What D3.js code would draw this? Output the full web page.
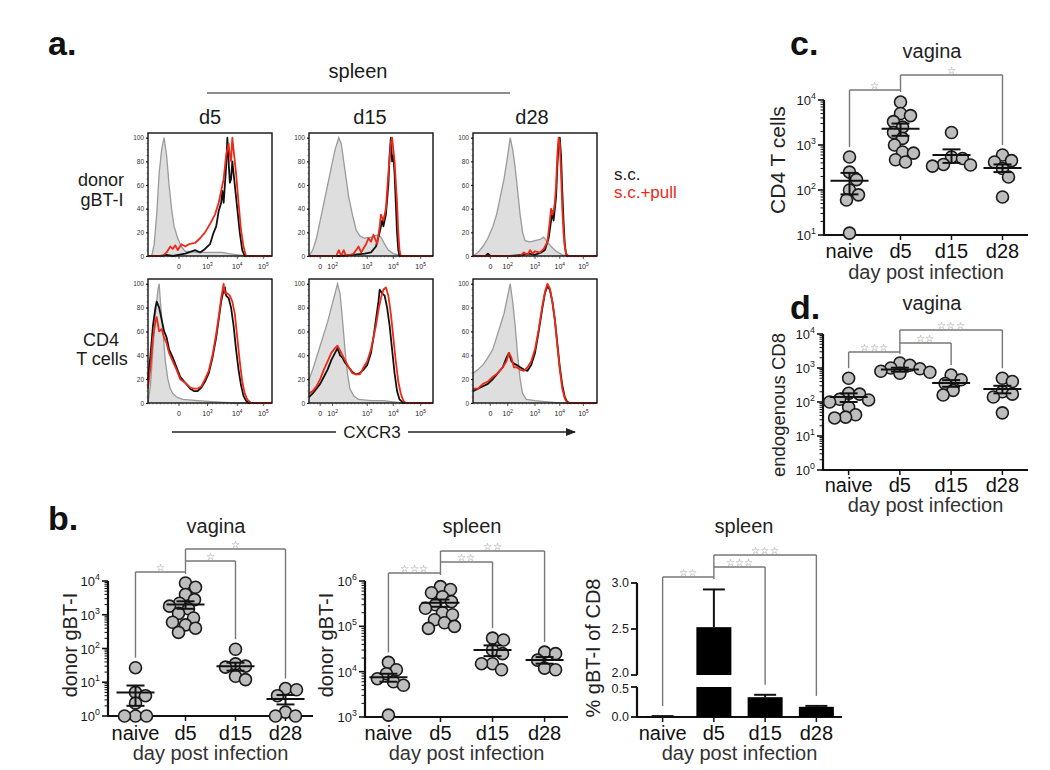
<!DOCTYPE html>
<html><head><meta charset="utf-8">
<script src="https://cdn.jsdelivr.net/npm/d3@7"></script>
<style>body{margin:0;background:#fff;} text{font-family:"Liberation Sans",Arial,Helvetica,sans-serif;}</style>
</head><body><svg id="c" width="1050" height="770"></svg>
<script>
// ---------------- DATA ----------------
const days = ["naive","d5","d15","d28"];
const histCols = ["d5","d15","d28"];
const histRows = [["donor","gBT-I"],["CD4","T cells"]];
const histYTicks = [0,20,40,60,80,100];
const tickPosD5 = [25,48,72,93], tickLabD5 = ["0","10^3","10^4","10^5"];
const tickPosD15 = [9,19,47,68,90], tickLabD15 = ["0","10^2","10^3","10^4","10^5"];
const tickPosD28 = [14,28,50,70,89], tickLabD28 = ["0","10^2","10^3","10^4","10^5"];

// histograms: [channel position, % of max]
const gbtD5Gray=[[0,0],[3,0],[5,10],[7,35],[9,70],[11,90],[13,100],[15,85],[17,60],[19,40],[21,25],[24,15],[27,8],[30,4],[40,3],[50,3],[60,3],[65,2],[72,1],[80,0],[100,0]];
const gbtD5Black=[[0,0],[10,0],[15,1],[20,0],[30,2],[38,5],[42,3],[46,6],[50,10],[53,20],[55,25],[57,38],[59,45],[60,55],[61,45],[62,60],[63,75],[64,100],[65,80],[66,62],[67,65],[68,80],[69,70],[70,60],[72,40],[74,20],[76,5],[78,0],[100,0]];
const gbtD5Red=[[0,0],[12,0],[15,3],[18,8],[20,6],[22,9],[24,5],[27,10],[30,8],[33,10],[38,11],[42,15],[46,20],[50,27],[54,35],[57,45],[59,55],[61,65],[63,85],[65,95],[66,85],[67,80],[68,100],[69,90],[71,70],[73,45],[75,22],[77,8],[79,0],[100,0]];
const gbtD15Gray=[[0,0],[3,5],[6,15],[9,30],[12,45],[15,60],[18,75],[21,90],[24,100],[26,95],[28,80],[30,65],[32,50],[35,35],[38,22],[41,17],[45,15],[50,16],[53,17],[56,18],[58,16],[61,10],[64,5],[68,2],[75,0],[100,0]];
const gbtD15Black=[[0,0],[25,0],[35,1],[45,2],[50,3],[54,8],[57,20],[59,30],[60,25],[62,35],[64,60],[65,85],[66,100],[67,80],[68,85],[69,70],[70,45],[71,20],[72,5],[73,0],[100,0]];
const gbtD15Red=[[0,0],[22,0],[24,5],[26,0],[28,5],[30,0],[36,2],[40,8],[42,3],[46,10],[48,15],[50,12],[52,18],[55,10],[57,25],[58,35],[60,30],[62,40],[64,70],[66,95],[67,100],[69,80],[71,45],[72,20],[73,5],[74,0],[100,0]];
const gbtD28Gray=[[0,0],[4,3],[8,8],[12,15],[16,25],[19,35],[22,50],[25,65],[28,85],[30,100],[32,90],[34,75],[36,55],[38,35],[40,20],[42,13],[46,12],[50,13],[54,14],[57,16],[60,12],[63,8],[67,4],[72,1],[78,0],[100,0]];
const gbtD28Black=[[0,0],[10,0],[12,2],[14,0],[30,0],[40,1],[45,2],[50,1],[55,3],[58,5],[61,15],[63,30],[64,38],[65,30],[66,40],[67,50],[68,75],[69,95],[70,100],[71,85],[72,55],[73,30],[74,10],[75,2],[76,0],[100,0]];
const gbtD28Red=[[0,0],[38,0],[41,3],[44,1],[46,5],[48,2],[50,4],[54,3],[57,6],[60,12],[62,30],[63,40],[64,35],[65,38],[66,45],[67,60],[68,85],[69,100],[70,95],[71,70],[72,40],[73,20],[74,8],[75,2],[77,0],[100,0]];
const cd4D5Gray=[[0,0],[2,15],[4,45],[6,75],[8,95],[9,100],[10,85],[12,60],[14,35],[16,20],[18,12],[20,8],[23,5],[28,3],[40,2],[55,1],[70,0],[100,0]];
const cd4D5Black=[[0,20],[2,40],[4,65],[6,80],[7,85],[9,80],[11,70],[13,60],[15,55],[17,45],[20,38],[23,30],[26,22],[30,17],[34,12],[37,10],[40,10],[43,13],[46,18],[49,25],[52,38],[55,55],[57,70],[59,85],[61,95],[62,97],[63,90],[65,88],[67,80],[69,65],[71,45],[73,28],[75,15],[77,6],[79,2],[81,0],[100,0]];
const cd4D5Red=[[0,12],[2,30],[4,55],[6,68],[7,72],[9,60],[11,62],[13,55],[15,50],[17,42],[20,35],[23,28],[26,20],[30,17],[34,13],[37,12],[40,12],[43,14],[46,20],[49,27],[52,40],[55,58],[57,72],[59,88],[61,100],[62,92],[64,92],[66,90],[68,85],[70,75],[72,55],[74,35],[76,18],[78,8],[80,3],[83,0],[100,0]];
const cd4D15Gray=[[0,20],[3,28],[6,38],[9,48],[12,58],[15,68],[18,80],[21,92],[23,100],[25,92],[27,70],[29,45],[31,25],[33,12],[36,6],[40,3],[50,2],[60,2],[68,1],[75,0],[100,0]];
const cd4D15Black=[[0,5],[3,8],[6,12],[9,16],[12,22],[15,28],[18,36],[21,42],[23,46],[25,40],[27,38],[29,34],[32,30],[35,26],[38,24],[41,25],[44,28],[47,32],[50,42],[52,55],[54,70],[56,85],[57,95],[59,92],[61,90],[63,80],[65,65],[67,45],[69,25],[71,10],[73,3],[76,0],[100,0]];
const cd4D15Red=[[0,8],[3,10],[6,14],[9,20],[12,28],[15,35],[18,42],[21,46],[23,48],[25,44],[27,40],[29,36],[32,30],[35,25],[38,24],[41,24],[44,30],[47,35],[50,45],[52,55],[54,65],[56,78],[58,88],[60,95],[62,97],[64,90],[66,75],[68,55],[70,35],[72,18],[74,8],[76,2],[78,0],[100,0]];
const cd4D28Gray=[[0,25],[4,28],[8,32],[12,38],[16,45],[19,55],[22,65],[25,75],[28,90],[30,100],[32,85],[34,65],[36,40],[38,20],[40,8],[43,3],[50,2],[60,1],[70,0],[100,0]];
const cd4D28Black=[[0,10],[4,12],[8,14],[12,16],[16,20],[20,25],[24,30],[27,38],[29,42],[31,35],[33,33],[35,32],[38,30],[41,28],[44,27],[47,32],[50,42],[53,60],[56,80],[58,92],[60,98],[62,95],[64,85],[66,70],[68,50],[70,30],[72,15],[74,5],[76,1],[78,0],[100,0]];
const cd4D28Red=[[0,12],[4,12],[8,16],[12,18],[16,22],[20,25],[24,30],[27,35],[29,42],[31,38],[33,30],[35,30],[38,28],[41,27],[44,30],[47,35],[50,45],[53,62],[56,82],[58,93],[60,100],[62,96],[64,85],[66,70],[68,48],[70,28],[72,12],[74,4],[76,0],[100,0]];

// b: vagina donor gBT-I
const bVagNaive=[27,5,4,2.4,1,1,1];
const bVagD5=[8700,6500,4000,2800,2200,1800,1500,1100,800,600,500,400,300];
const bVagD15=[95,35,30,28,15,12];
const bVagD28=[6.5,6,4,1.3,1,1];
const bVagMean=[5,2000,30,3.2];
const bVagSem=[3,500,8,1];
const bVagSig=[["naive","d5","*"],["d5","d15","*"],["d5","d28","*"]];
// b: spleen donor gBT-I
const bSplNaive=[16000,11000,9000,7000,6000,5000,1100];
const bSplD5=[750000,650000,550000,450000,350000,300000,250000,200000,180000,140000,120000,100000,90000];
const bSplD15=[55000,50000,30000,25000,15000,15000,11000];
const bSplD28=[27000,25000,18000,12000,11000];
const bSplMean=[7500,330000,30000,18000];
const bSplSem=[1500,60000,8000,3000];
const bSplSig=[["naive","d5","***"],["d5","d15","**"],["d5","d28","**"]];
// b: spleen % gBT-I of CD8
const bPctMean=[0.01,2.52,0.33,0.17];
const bPctErr=[0.005,0.41,0.04,0.015];
const bPctSig=[["naive","d5","**"],["d5","d15","***"],["d5","d28","***"]];
// c: vagina CD4 T cells
const cNaive=[540,250,170,100,78,60,11];
const cD5=[9000,5000,4500,3300,2500,1900,1400,1000,700,660,470,420];
const cD15=[1900,540,500,370,360,340];
const cD28=[600,450,420,300,195,70];
const cMean=[160,2300,600,310];
const cSem=[80,700,200,60];
const cSig=[["naive","d5","*"],["d5","d28","*"]];
// d: vagina endogenous CD8
const dNaive=[500,180,170,120,115,100,70,42,36,34];
const dD5=[1400,1200,1000,950,800,750,700];
const dD15=[620,450,350,220,160];
const dD28=[500,400,200,170,140,48];
const dMean=[140,900,360,240];
const dSem=[40,120,80,60];
const dSig=[["naive","d5","***"],["d5","d15","**"],["d5","d28","***"]];

// ---------------- DRAW ----------------
const svg=d3.select("#c");
const RED="#ec2a17";

function txt(g,x,y,s,o={}){
  const t=g.append("text").attr("x",x).attr("y",y).text(s)
    .attr("font-size",o.size||20).attr("text-anchor",o.anchor||"middle").attr("fill",o.fill||"#1a1a1a");
  if(o.weight) t.attr("font-weight",o.weight);
  if(o.rotate) t.attr("transform",`rotate(-90,${x},${y})`);
  return t;
}
function powLabel(g,x,y,lab,size,anchor){
  const t=g.append("text").attr("x",x).attr("y",y).attr("font-size",size).attr("text-anchor",anchor).attr("fill","#1a1a1a");
  if(lab.indexOf("^")<0){t.text(lab);return t;}
  const [b,e]=lab.split("^");
  t.append("tspan").text(b);
  t.append("tspan").attr("dy",-size*0.45).attr("font-size",size*0.68).text(e);
  return t;
}

// ---- panel a ----
txt(svg,48,55,"a.",{size:34,weight:"bold",anchor:"start",fill:"#111"});
txt(svg,358,78,"spleen",{size:20});
svg.append("line").attr("x1",207).attr("x2",510).attr("y1",93).attr("y2",93).attr("stroke","#666").attr("stroke-width",1.5);

const colBoxes=[[148,272],[309,433],[473,597]];
const rowBoxes=[[133,256],[279,403]];
const colTitleX=[210,370,532];
histCols.forEach((c,i)=>txt(svg,colTitleX[i],124,c,{size:20}));
const rowLabelY=[[186,206],[346,365]];
histRows.forEach((r,i)=>{txt(svg,101,rowLabelY[i][0],r[0],{size:18});txt(svg,102,rowLabelY[i][1],r[1],{size:18});});
txt(svg,614,180,"s.c.",{size:17,anchor:"start"});
txt(svg,614,198,"s.c.+pull",{size:17,anchor:"start",fill:RED});

const histData=[
  [[gbtD5Gray,gbtD5Black,gbtD5Red],[gbtD15Gray,gbtD15Black,gbtD15Red],[gbtD28Gray,gbtD28Black,gbtD28Red]],
  [[cd4D5Gray,cd4D5Black,cd4D5Red],[cd4D15Gray,cd4D15Black,cd4D15Red],[cd4D28Gray,cd4D28Black,cd4D28Red]]
];
const histTicks=[[tickPosD5,tickLabD5],[tickPosD15,tickLabD15],[tickPosD28,tickLabD28]];

histData.forEach((row,ri)=>row.forEach((curves,ci)=>{
  const [x0,x1]=colBoxes[ci],[yT,yB]=rowBoxes[ri];
  const x=d3.scaleLinear().domain([0,100]).range([x0,x1]);
  const y=d3.scaleLinear().domain([0,104]).range([yB,yT]);
  const g=svg.append("g");
  const area=d3.area().x(d=>x(d[0])).y0(yB).y1(d=>y(d[1]));
  const line=d3.line().x(d=>x(d[0])).y(d=>y(d[1]));
  g.append("path").attr("d",area(curves[0])).attr("fill","#dedede");
  g.append("path").attr("d",line(curves[0])).attr("fill","none").attr("stroke","#9a9a9a").attr("stroke-width",1.3);
  g.append("path").attr("d",line(curves[1])).attr("fill","none").attr("stroke","#111").attr("stroke-width",1.8).attr("stroke-linejoin","round");
  g.append("path").attr("d",line(curves[2])).attr("fill","none").attr("stroke",RED).attr("stroke-width",1.8).attr("stroke-linejoin","round");
  g.append("rect").attr("x",x0).attr("y",yT).attr("width",x1-x0).attr("height",yB-yT).attr("fill","none").attr("stroke","#111").attr("stroke-width",1.4);
  const yAx=d3.axisLeft(y).tickValues(histYTicks).tickSize(2).tickPadding(2);
  const ya=g.append("g").attr("transform",`translate(${x0},0)`).call(yAx);
  ya.select(".domain").remove();
  ya.selectAll("text").attr("font-size",6.5).attr("fill","#333").attr("font-family","Liberation Sans, Arial");
  d3.range(0,101,5).forEach(v=>g.append("line").attr("x1",x0).attr("x2",x0-1.5).attr("y1",y(v)).attr("y2",y(v)).attr("stroke","#333").attr("stroke-width",0.6));
  const [tp,tl]=histTicks[ci];
  tp.forEach((p,k)=>{
    g.append("line").attr("x1",x(p)).attr("x2",x(p)).attr("y1",yB).attr("y2",yB+3).attr("stroke","#333").attr("stroke-width",0.8);
    powLabel(g,x(p),yB+13,tl[k],7,"middle");
  });
  d3.range(1,100,3).forEach(v=>g.append("line").attr("x1",x(v)).attr("x2",x(v)).attr("y1",yB).attr("y2",yB+1.5).attr("stroke","#333").attr("stroke-width",0.5));
}));

// CXCR3 arrow
svg.append("defs").append("marker").attr("id","arr").attr("viewBox","0 0 10 10").attr("refX",9).attr("refY",5)
  .attr("markerWidth",8).attr("markerHeight",8).attr("orient","auto")
  .append("path").attr("d","M0,1 L10,5 L0,9 Z").attr("fill","#222");
svg.append("line").attr("x1",172).attr("x2",575).attr("y1",432).attr("y2",432).attr("stroke","#222").attr("stroke-width",1.3).attr("marker-end","url(#arr)");
svg.append("rect").attr("x",336).attr("y",424).attr("width",72).attr("height",16).attr("fill","#fff");
txt(svg,372,438,"CXCR3",{size:17});

// ---- scatter helper ----
const R=6;
function swarm(vals,y){
  const pts=vals.map(v=>({v,py:y(v)})).sort((a,b)=>a.py-b.py);
  const placed=[];const minD=R*1.7;
  pts.forEach(p=>{
    for(let k=0;k<400;k++){
      const off=k===0?0:(k%2?1:-1)*Math.ceil(k/2);
      if(placed.every(q=>Math.hypot(q.off-off,q.py-p.py)>=minD)){p.off=off;break;}
    }
    placed.push(p);
  });
  return pts;
}
function logAxis(g,xl,y,eMin,eMax){
  g.append("line").attr("x1",xl).attr("x2",xl).attr("y1",y(10**eMin)).attr("y2",y(10**eMax)).attr("stroke","#111").attr("stroke-width",2.2);
  for(let e=eMin;e<=eMax;e++){
    g.append("line").attr("x1",xl).attr("x2",xl-6).attr("y1",y(10**e)).attr("y2",y(10**e)).attr("stroke","#111").attr("stroke-width",1.6);
    powLabel(g,xl-8,y(10**e)+5,"10^"+e,13,"end");
    if(e<eMax) for(let m=2;m<=9;m++){
      g.append("line").attr("x1",xl).attr("x2",xl-3.5).attr("y1",y(m*10**e)).attr("y2",y(m*10**e)).attr("stroke","#111").attr("stroke-width",1);
    }
  }
}
function xAxis(g,xl,xr,yb,x){
  g.append("line").attr("x1",xl-1).attr("x2",xr).attr("y1",yb).attr("y2",yb).attr("stroke","#111").attr("stroke-width",2.2);
  days.forEach(d=>g.append("line").attr("x1",x(d)).attr("x2",x(d)).attr("y1",yb).attr("y2",yb+5).attr("stroke","#111").attr("stroke-width",1.5));
}
function labels(g,o,x){
  days.forEach(d=>txt(g,x(d),o.catY,d,{size:20,fill:"#111"}));
  txt(g,(o.xl+o.xr)/2,o.dayY,"day post infection",{size:20,fill:"#333"});
  txt(g,o.titleX,o.titleY,o.title,{size:20,fill:"#222"});
  txt(g,o.ylabX,o.ylabY,o.ylab,{size:o.ylabSize||20,rotate:true,fill:"#222"});
}
function brackets(g,sig,levels,x,tops){
  sig.forEach((s,i)=>{
    const lv=levels[i];
    g.append("line").attr("x1",x(s[0])).attr("x2",x(s[1])).attr("y1",lv).attr("y2",lv).attr("stroke","#777").attr("stroke-width",1.4);
    const other=s[0]==="d5"?s[1]:s[0];
    g.append("line").attr("x1",x(other)).attr("x2",x(other)).attr("y1",lv).attr("y2",tops[other]).attr("stroke","#777").attr("stroke-width",1.4);
    txt(g,(x(s[0])+x(s[1]))/2,lv-1.5,s[2].replace(/\*/g,"☆"),{size:10,fill:"#777"}).attr("font-family","DejaVu Sans").attr("letter-spacing",0.3);
  });
  g.append("line").attr("x1",x("d5")).attr("x2",x("d5")).attr("y1",d3.min(levels)).attr("y2",d3.max(levels)+2).attr("stroke","#777").attr("stroke-width",1.4);
}
function scatter(o){
  const g=svg.append("g");
  const x=d3.scalePoint().domain(days).range([o.xl,o.xr]).padding(o.pad);
  const y=d3.scaleLog().domain([10**o.eMin,10**o.eMax]).range([o.yb,o.yt]);
  logAxis(g,o.xl,y,o.eMin,o.eMax);
  xAxis(g,o.xl,o.xr,o.yb,x);
  const tops={};
  o.groups.forEach((vals,i)=>{
    const d=days[i];
    const pts=swarm(vals,y);
    g.selectAll(null).data(pts).enter().append("circle")
      .attr("cx",p=>x(d)+p.off).attr("cy",p=>p.py).attr("r",R)
      .attr("fill","#bdbdbd").attr("stroke","#1a1a1a").attr("stroke-width",1.6);
    const m=o.mean[i],s=o.sem[i],cx=x(d);
    const L=[[cx-19,y(m),cx+19,y(m)],[cx,y(m-s),cx,y(m+s)],[cx-9,y(m+s),cx+9,y(m+s)],[cx-9,y(m-s),cx+9,y(m-s)]];
    L.forEach(l=>g.append("line").attr("x1",l[0]).attr("y1",l[1]).attr("x2",l[2]).attr("y2",l[3]).attr("stroke","#111").attr("stroke-width",2));
    tops[d]=Math.min(y(d3.max(vals)),y(m+s))-R-4;
  });
  brackets(g,o.sig,o.levels,x,tops);
  labels(g,o,x);
}

// ---- panel b ----
txt(svg,48,530,"b.",{size:34,weight:"bold",anchor:"start",fill:"#111"});
scatter({xl:108,xr:313,pad:0.55,yb:716,yt:581,eMin:0,eMax:4,groups:[bVagNaive,bVagD5,bVagD15,bVagD28],mean:bVagMean,sem:bVagSem,
  sig:bVagSig,levels:[572,561,549],catY:740,dayY:760,title:"vagina",titleX:216,titleY:533,ylab:"donor gBT-I",ylabX:77,ylabY:645});
scatter({xl:365,xr:568,pad:0.45,yb:717,yt:581,eMin:3,eMax:6,groups:[bSplNaive,bSplD5,bSplD15,bSplD28],mean:bSplMean,sem:bSplSem,
  sig:bSplSig,levels:[573,562,551],catY:740,dayY:760,title:"spleen",titleX:472,titleY:533,ylab:"donor gBT-I",ylabX:333,ylabY:645});

// bar chart with broken axis
(function(){
  const g=svg.append("g");
  const xl=637,xr=842;
  const x=d3.scalePoint().domain(days).range([xl,xr]).padding(0.5);
  const bw=35;
  const yLo=d3.scaleLinear().domain([0,0.5]).range([717,687]);
  const yHi=d3.scaleLinear().domain([2,3]).range([675,583]);
  const yv=v=>v<=0.5?yLo(v):yHi(v);
  g.append("line").attr("x1",xl).attr("x2",xl).attr("y1",717).attr("y2",687).attr("stroke","#111").attr("stroke-width",2.2);
  g.append("line").attr("x1",xl).attr("x2",xl).attr("y1",675).attr("y2",583).attr("stroke","#111").attr("stroke-width",2.2);
  // tick labels; the two labels at the break are nudged apart
  [[yHi,[3,2.5,2],[0,0,-2.5]],[yLo,[0.5,0],[2,0]]].forEach(([sc,vs,nudge])=>vs.forEach((v,k)=>{
    g.append("line").attr("x1",xl).attr("x2",xl-6).attr("y1",sc(v)).attr("y2",sc(v)).attr("stroke","#111").attr("stroke-width",1.8);
    txt(g,xl-8,sc(v)+4.3+nudge[k],v.toFixed(1),{size:12.5,anchor:"end"});
  }));
  xAxis(g,xl,xr,717,x);
  const tops={};
  bPctMean.forEach((m,i)=>{
    const d=days[i],cx=x(d);
    if(m>0.5){
      g.append("rect").attr("x",cx-bw/2).attr("width",bw).attr("y",yLo(0.5)).attr("height",yLo(0)-yLo(0.5)).attr("fill","#000");
      g.append("rect").attr("x",cx-bw/2).attr("width",bw).attr("y",yHi(m)).attr("height",yHi(2)-yHi(m)).attr("fill","#000");
    } else {
      g.append("rect").attr("x",cx-bw/2).attr("width",bw).attr("y",yLo(m)).attr("height",yLo(0)-yLo(m)).attr("fill","#000");
    }
    const e=m+bPctErr[i];
    g.append("line").attr("x1",cx).attr("x2",cx).attr("y1",yv(m)).attr("y2",yv(e)).attr("stroke","#111").attr("stroke-width",2);
    g.append("line").attr("x1",cx-11).attr("x2",cx+11).attr("y1",yv(e)).attr("y2",yv(e)).attr("stroke","#111").attr("stroke-width",2);
    tops[d]=yv(e)-10;
  });
  brackets(g,bPctSig,[577,567,555],x,tops);
  labels(g,{xl,xr,catY:740,dayY:760,title:"spleen",titleX:744,titleY:533,ylab:"% gBT-I of CD8",ylabX:600,ylabY:648},x);
})();

// ---- panel c ----
txt(svg,790,55,"c.",{size:34,weight:"bold",anchor:"start",fill:"#111"});
scatter({xl:824,xr:1028,pad:0.5,yb:235,yt:100,eMin:1,eMax:4,groups:[cNaive,cD5,cD15,cD28],mean:cMean,sem:cSem,
  sig:cSig,levels:[90,75],catY:258,dayY:279,title:"vagina",titleX:932,titleY:58,ylab:"CD4 T cells",ylabX:785,ylabY:160,ylabSize:21});
// ---- panel d ----
txt(svg,790,319,"d.",{size:34,weight:"bold",anchor:"start",fill:"#111"});
scatter({xl:823,xr:1028,pad:0.5,yb:470,yt:334,eMin:0,eMax:4,groups:[dNaive,dD5,dD15,dD28],mean:dMean,sem:dSem,
  sig:dSig,levels:[352,343,330],catY:492,dayY:512,title:"vagina",titleX:932,titleY:310,ylab:"endogenous CD8",ylabX:785,ylabY:405,ylabSize:18.5});
</script></body></html>
